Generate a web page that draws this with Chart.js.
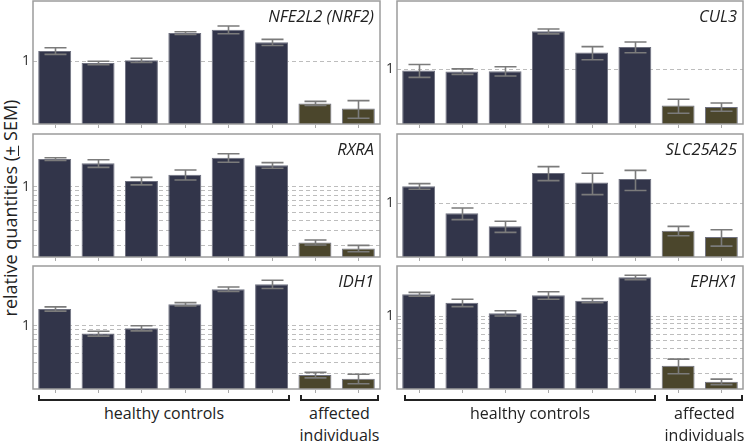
<!DOCTYPE html>
<html>
<head>
<meta charset="utf-8">
<script src="https://cdn.jsdelivr.net/npm/chart.js@4.4.1/dist/chart.umd.min.js"></script>
<style>
  body { margin: 0; background: #fff; }
  #wrap { position: relative; width: 746px; height: 446px; overflow: hidden; font-family: 'Open Sans', sans-serif; color: #222; }
  canvas { position: absolute; }
  .ytitle { position: absolute; left: 10px; top: 208px; transform: translate(-50%, -50%) rotate(-90deg); white-space: nowrap; font-size: 18px; }
  .brk { position: absolute; height: 4px; border: 2px solid #222; border-top: none; }
  .lbl { position: absolute; transform: translateX(-50%); text-align: center; white-space: nowrap; font-size: 16px; line-height: 22px; }
</style>
</head>
<body>
<div id="wrap">
  <div class="ytitle">relative quantities (<u>+</u> SEM)</div>
</div>
<script>
// relative mRNA quantities, 6 healthy controls + 2 affected individuals, log axis
const GENES = ['NFE2L2 (NRF2)', 'CUL3', 'RXRA', 'SLC25A25', 'IDH1', 'EPHX1'];
const SAMPLES = ['C1', 'C2', 'C3', 'C4', 'C5', 'C6', 'P1', 'P2'];
const GROUP = ['ctrl', 'ctrl', 'ctrl', 'ctrl', 'ctrl', 'ctrl', 'aff', 'aff'];

const NFE2L2_MEAN = [1.32, 0.95, 1.02, 2.15, 2.36, 1.67, 0.313, 0.273];
const NFE2L2_SEM  = [0.12, 0.045, 0.06, 0.08, 0.25, 0.14, 0.018, 0.065];
const CUL3_MEAN = [0.97, 0.94, 0.95, 2.83, 1.58, 1.84, 0.37, 0.356];
const CUL3_SEM  = [0.17, 0.07, 0.12, 0.19, 0.28, 0.27, 0.07, 0.04];
const RXRA_MEAN = [2.15, 1.91, 1.18, 1.40, 2.23, 1.81, 0.219, 0.186];
const RXRA_SEM  = [0.08, 0.2, 0.12, 0.19, 0.26, 0.14, 0.015, 0.016];
const SLC25A25_MEAN = [1.58, 0.754, 0.528, 2.28, 1.76, 1.93, 0.468, 0.394];
const SLC25A25_SEM  = [0.12, 0.12, 0.08, 0.43, 0.5, 0.52, 0.06, 0.087];
const IDH1_MEAN = [1.52, 0.82, 0.937, 1.71, 2.49, 2.82, 0.291, 0.265];
const IDH1_SEM  = [0.08, 0.05, 0.06, 0.07, 0.14, 0.29, 0.02, 0.031];
const EPHX1_MEAN = [1.84, 1.45, 1.08, 1.79, 1.54, 2.96, 0.248, 0.158];
const EPHX1_SEM  = [0.1, 0.15, 0.08, 0.19, 0.09, 0.18, 0.05, 0.012];

const MEANS = [NFE2L2_MEAN, CUL3_MEAN, RXRA_MEAN, SLC25A25_MEAN, IDH1_MEAN, EPHX1_MEAN];
const SEMS = [NFE2L2_SEM, CUL3_SEM, RXRA_SEM, SLC25A25_SEM, IDH1_SEM, EPHX1_SEM];

// axis ranges and dashed grid values per panel
const Y_MIN = [0.178, 0.223, 0.147, 0.228, 0.205, 0.129];
const Y_MAX = [5.18, 6.5, 4.27, 6.63, 4.45, 4.07];
const GRID_FULL = [0.2, 0.3, 0.4, 0.5, 0.6, 0.7, 0.8, 0.9, 1];
const GRID = [[1], [1], GRID_FULL, [1], GRID_FULL.slice(1), GRID_FULL];
const TICK_LABELS = ['1'];

const navy = '#32354a';
const olive = '#4b462c';

// panel frames on the page
const COL_L = [33, 397], COL_R = [380, 743];
const ROW_T = [1, 134, 266], ROW_B = [124, 257, 389];

const wrap = document.getElementById('wrap');

const panelDeco = {
  id: 'panelDeco',
  afterDatasetsDraw(chart, args, o) {
    const ctx = chart.ctx;
    const y = chart.scales.y;
    const meta = chart.getDatasetMeta(0);
    const mean = MEANS[o.idx], sem = SEMS[o.idx];
    ctx.save();
    ctx.strokeStyle = '#7b7b7b';
    ctx.lineWidth = 1.6;
    meta.data.forEach((bar, i) => {
      const top = y.getPixelForValue(mean[i] + sem[i]);
      const bot = y.getPixelForValue(mean[i] - sem[i]);
      const x = Math.round(bar.x) + 0.5;
      ctx.beginPath();
      ctx.moveTo(x, top); ctx.lineTo(x, bot);
      ctx.moveTo(x - 11, top); ctx.lineTo(x + 11, top);
      ctx.moveTo(x - 11, bot); ctx.lineTo(x + 11, bot);
      ctx.stroke();
    });
    ctx.restore();
  },
  afterDraw(chart, args, o) {
    const ctx = chart.ctx;
    const a = chart.chartArea;
    const meta = chart.getDatasetMeta(0);
    ctx.save();
    ctx.strokeStyle = '#9c9c9c';
    ctx.lineWidth = 1.5;
    ctx.strokeRect(a.left, a.top, a.right - a.left, a.bottom - a.top);
    ctx.lineWidth = 1;
    ctx.strokeStyle = '#aaa';
    meta.data.forEach(bar => {
      const x = Math.round(bar.x) + 0.5;
      ctx.beginPath();
      ctx.moveTo(x, a.bottom + 1); ctx.lineTo(x, a.bottom + 4);
      ctx.stroke();
    });
    ctx.font = "italic 16.5px 'Open Sans'";
    ctx.fillStyle = '#222';
    ctx.textAlign = 'right';
    ctx.textBaseline = 'middle';
    ctx.fillText(GENES[o.idx], a.right - 6, a.top + 16);
    ctx.restore();
  }
};

GENES.forEach((gene, idx) => {
  const col = idx % 2, row = Math.floor(idx / 2);
  const L = COL_L[col], R = COL_R[col], T = ROW_T[row], B = ROW_B[row];
  const cv = document.createElement('canvas');
  const w = (R - L) + 33 + 3, h = (B - T) + 2 + 6;
  cv.width = w; cv.height = h;
  cv.style.left = (L - 33) + 'px';
  cv.style.top = (T - 2) + 'px';
  cv.style.width = w + 'px';
  cv.style.height = h + 'px';
  wrap.appendChild(cv);

  new Chart(cv, {
    type: 'bar',
    data: {
      labels: SAMPLES,
      datasets: [{
        data: MEANS[idx],
        backgroundColor: GROUP.map(g => g === 'aff' ? olive : navy),
        borderColor: '#6f7180',
        borderWidth: 1,
        barPercentage: 0.76,
        categoryPercentage: 1
      }]
    },
    options: {
      responsive: false,
      animation: false,
      events: [],
      layout: { padding: { top: 2, right: 3, bottom: 6, left: 0 } },
      plugins: {
        legend: { display: false },
        tooltip: { enabled: false },
        panelDeco: { idx }
      },
      scales: {
        x: { display: false },
        y: {
          type: 'logarithmic',
          min: Y_MIN[idx],
          max: Y_MAX[idx],
          afterBuildTicks: s => { s.ticks = GRID[idx].map(v => ({ value: v })); },
          afterFit: s => { s.width = 33; s.paddingTop = 0; s.paddingBottom = 0; },
          grid: { color: '#bdbdbd', lineWidth: 1, drawTicks: false },
          border: { display: false, dash: [4, 3] },
          ticks: {
            autoSkip: false,
            padding: 3,
            color: '#333',
            font: { family: 'Open Sans', size: 14 },
            callback: v => TICK_LABELS.includes(String(v)) ? String(v) : ''
          }
        }
      }
    },
    plugins: [panelDeco]
  });
});

// group brackets under the bottom row
const BRACKETS = [
  { l: 38, r: 290, text: 'healthy controls' },
  { l: 300, r: 379, text: 'affected<br>individuals' },
  { l: 404, r: 656, text: 'healthy controls' },
  { l: 666, r: 743, text: 'affected<br>individuals' }
];
BRACKETS.forEach(b => {
  const d = document.createElement('div');
  d.className = 'brk';
  d.style.left = b.l + 'px';
  d.style.top = '395px';
  d.style.width = (b.r - b.l - 4) + 'px';
  wrap.appendChild(d);
  const t = document.createElement('div');
  t.className = 'lbl';
  t.style.left = ((b.l + b.r) / 2) + 'px';
  t.style.top = '402px';
  t.innerHTML = b.text;
  wrap.appendChild(t);
});
</script>
</body>
</html>
